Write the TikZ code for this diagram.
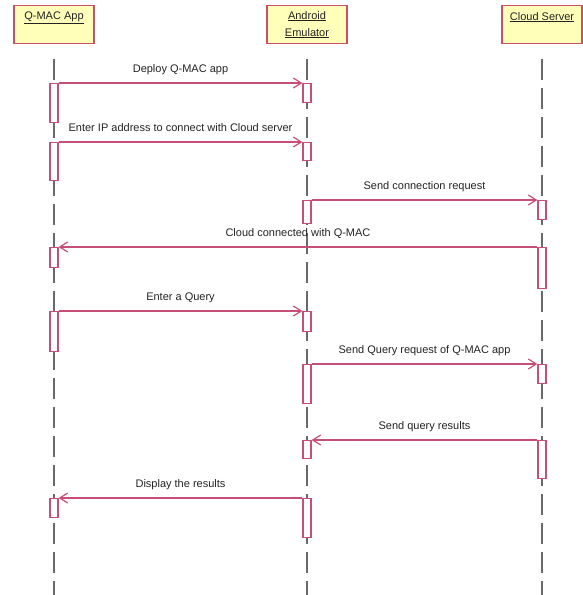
\documentclass[tikz,border=0pt]{standalone}
\usepackage{fontspec}
\setmainfont{Liberation Sans}
\usetikzlibrary{arrows.meta}
\definecolor{umlred}{RGB}{200,78,122}
\definecolor{umlframe}{RGB}{200,80,104}
\definecolor{umlyellow}{RGB}{255,255,185}
\definecolor{umlgray}{RGB}{105,105,105}
\definecolor{umltext}{RGB}{35,35,35}
\begin{document}
\begin{tikzpicture}[x=1pt,y=-1pt,
  obj/.style={draw=umlframe,fill=umlyellow,line width=1.2pt,minimum width=80pt,minimum height=38pt,anchor=north,align=center,inner sep=2pt,text=umltext,font=\fontsize{11}{17}\selectfont},
  life/.style={draw=umlgray,line width=1.2pt,dash pattern=on 21pt off 8pt},
  act/.style={draw=umlred,fill=white,line width=1.2pt,minimum width=8pt,inner sep=0pt,anchor=north},
  msg/.style={draw=umlred,line width=1.3pt,-{Straight Barb[length=8pt,width=10pt,line width=1.2pt]}},
  lbl/.style={above=10pt,inner sep=0pt,text depth=0pt,text=umltext,font=\fontsize{11}{13}\selectfont}]
\useasboundingbox (0,0) rectangle (582,595);
\node[obj] (app) at (54,5) {\underline{Q-MAC App}\\\mbox{}};
\node[obj] (emu) at (307,5) {\underline{Android}\\\underline{Emulator}};
\node[obj] (cloud) at (542,5) {\underline{Cloud Server}\\\mbox{}};
\coordinate (append) at (54,595);
\coordinate (emuend) at (307,595);
\coordinate (cloudend) at (542,595);
\draw[life] ([yshift=-15pt]app.south) -- (append);
\draw[life] ([yshift=-15pt]emu.south) -- (emuend);
\draw[life] ([yshift=-15pt]cloud.south) -- (cloudend);

\node[act,minimum height=39pt] (a1) at (54,83) {};
\node[act,minimum height=38pt] (a2) at (54,142) {};
\node[act,minimum height=20pt] (a3) at (54,247) {};
\node[act,minimum height=40pt] (a4) at (54,311) {};
\node[act,minimum height=19pt] (a5) at (54,498) {};
\node[act,minimum height=19pt] (e1) at (307,83) {};
\node[act,minimum height=18pt] (e2) at (307,142) {};
\node[act,minimum height=23pt] (e3) at (307,200) {};
\node[act,minimum height=20pt] (e4) at (307,311) {};
\node[act,minimum height=39pt] (e5) at (307,364) {};
\node[act,minimum height=18pt] (e6) at (307,440) {};
\node[act,minimum height=39pt] (e7) at (307,498) {};
\node[act,minimum height=19pt] (c1) at (542,200) {};
\node[act,minimum height=41pt] (c2) at (542,247) {};
\node[act,minimum height=19pt] (c3) at (542,364) {};
\node[act,minimum height=38pt] (c4) at (542,440) {};

\draw[msg] (a1.north east) -- node[lbl] {Deploy Q-MAC app} (e1.north west);
\draw[msg] (a2.north east) -- node[lbl] {Enter IP address to connect with Cloud server} (e2.north west);
\draw[msg] (e3.north east) -- node[lbl] {Send connection request} (c1.north west);
\draw[msg] (c2.north west) -- node[lbl] {Cloud connected with Q-MAC} (a3.north east);
\draw[msg] (a4.north east) -- node[lbl] {Enter a Query} (e4.north west);
\draw[msg] (e5.north east) -- node[lbl] {Send Query request of Q-MAC app} (c3.north west);
\draw[msg] (c4.north west) -- node[lbl] {Send query results} (e6.north east);
\draw[msg] (e7.north west) -- node[lbl] {Display the results} (a5.north east);
\end{tikzpicture}
\end{document}
